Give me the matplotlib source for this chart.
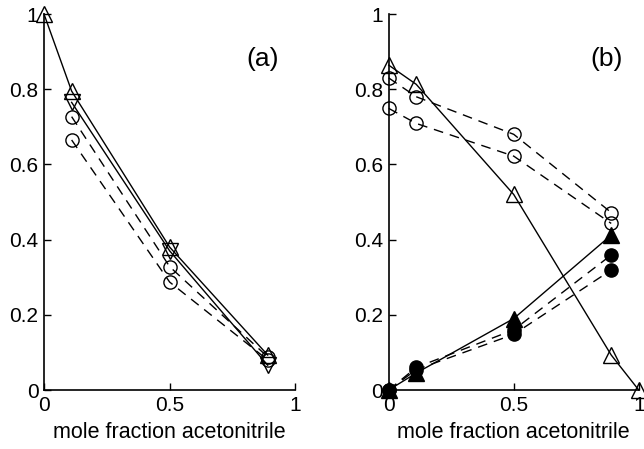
import matplotlib
matplotlib.use("Agg")
import matplotlib.pyplot as plt

plt.rcParams['font.family'] = ['Liberation Sans', 'DejaVu Sans']

# Panel (a)
a_up_x = [0, 0.11, 0.5, 0.89]
a_up_y = [1.0, 0.795, 0.38, 0.093]
a_dn_x = [0.11, 0.5, 0.89]
a_dn_y = [0.765, 0.37, 0.066]
a_c1_x = [0.11, 0.5, 0.89]
a_c1_y = [0.727, 0.328, 0.088]
a_c2_x = [0.11, 0.5, 0.89]
a_c2_y = [0.665, 0.287, 0.08]

# Panel (b)
b_up_x = [0, 0.11, 0.5, 0.89, 1.0]
b_up_y = [0.864, 0.813, 0.52, 0.093, 0.0]
b_c1_x = [0, 0.11, 0.5, 0.89]
b_c1_y = [0.83, 0.78, 0.68, 0.472]
b_c2_x = [0, 0.11, 0.5, 0.89]
b_c2_y = [0.749, 0.709, 0.622, 0.443]
b_ft_x = [0, 0.11, 0.5, 0.89]
b_ft_y = [0.0, 0.045, 0.19, 0.412]
b_f1_x = [0, 0.11, 0.5, 0.89]
b_f1_y = [0.0, 0.06, 0.16, 0.359]
b_f2_x = [0, 0.11, 0.5, 0.89]
b_f2_y = [0.0, 0.054, 0.148, 0.319]

xticks = [0, 0.5, 1]
xtick_labels = ['0', '0.5', '1']
yticks = [0, 0.2, 0.4, 0.6, 0.8, 1]
ytick_labels = ['0', '0.2', '0.4', '0.6', '0.8', '1']
xlabel = 'mole fraction acetonitrile'

fig = plt.figure(figsize=(6.44, 4.49), dpi=100)
axa = fig.add_axes([0.0683, 0.1314, 0.3903, 0.8374])
axb = fig.add_axes([0.6036, 0.1314, 0.3882, 0.8374])

LW = 1.0
DASH = (0, (7, 5))
TRI = 11
CIR = 9.5

def style(ax, label):
    ax.set_xlim(0, 1)
    ax.set_ylim(0, 1)
    for s in ('top', 'right'):
        ax.spines[s].set_visible(False)
    for s in ('left', 'bottom'):
        ax.spines[s].set_linewidth(1.2)
    ax.set_xticks(xticks)
    ax.set_xticklabels(xtick_labels)
    ax.set_yticks(yticks)
    ax.set_yticklabels(ytick_labels)
    ax.tick_params(direction='in', length=5, width=1.0, labelsize=15, pad=4)
    ax.set_xlabel(xlabel, fontsize=15.5, labelpad=5)
    ax.text(0.87, 0.88, label, fontsize=19, ha='center', va='center')

def plot(ax, x, y, marker, ls, filled):
    ax.plot(x, y, color='black', lw=LW, linestyle=ls, marker=marker,
            markersize=TRI if marker in '^v' else CIR,
            markerfacecolor='black' if filled else 'none',
            markeredgecolor='black', markeredgewidth=1.0, clip_on=False)

plot(axa, a_c1_x, a_c1_y, 'o', DASH, False)
plot(axa, a_c2_x, a_c2_y, 'o', DASH, False)
plot(axa, a_dn_x, a_dn_y, 'v', '-', False)
plot(axa, a_up_x, a_up_y, '^', '-', False)
style(axa, '(a)')

plot(axb, b_c1_x, b_c1_y, 'o', DASH, False)
plot(axb, b_c2_x, b_c2_y, 'o', DASH, False)
plot(axb, b_up_x, b_up_y, '^', '-', False)
plot(axb, b_f1_x, b_f1_y, 'o', DASH, True)
plot(axb, b_f2_x, b_f2_y, 'o', DASH, True)
plot(axb, b_ft_x, b_ft_y, '^', '-', True)
style(axb, '(b)')

fig.savefig('out.png', dpi=100)
